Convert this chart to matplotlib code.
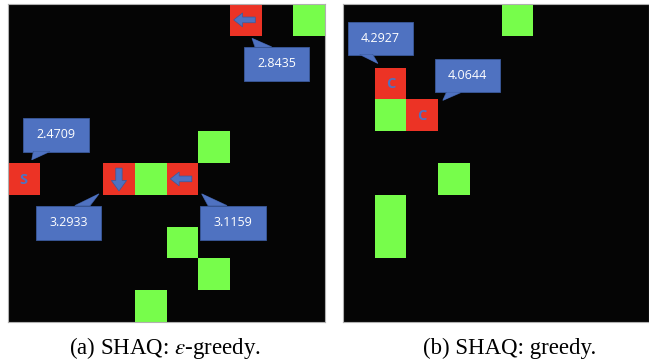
import matplotlib
matplotlib.use("Agg")
import matplotlib.pyplot as plt
from matplotlib.patches import Rectangle, Polygon

plt.rcParams['mathtext.fontset'] = 'stix'

# grid cells as (column, row from top)
left_red = [(7, 0), (0, 5), (3, 5), (5, 5)]
left_red_marks = ['left', 'S', 'down', 'left']
left_green = [(9, 0), (6, 4), (4, 5), (5, 7), (6, 8), (4, 9)]
left_values = ['2.8435', '2.4709', '3.2933', '3.1159']

right_red = [(1, 2), (2, 3)]
right_red_marks = ['C', 'C']
right_green = [(5, 0), (1, 3), (3, 5), (1, 6), (1, 7)]
right_values = ['4.2927', '4.0644']

captions = ['(a) SHAQ: $\\epsilon$-greedy.', '(b) SHAQ: greedy.']

# callout layout: box (x0, x1, y0, y1), tail base (xa, xb), tail tip (x, y)
left_boxes = [
    ((7.44, 9.50, 1.35, 2.41), (7.79, 8.32), (7.70, 1.08)),
    ((0.48, 2.56, 3.57, 4.64), (0.80, 1.32), (0.75, 4.90)),
    ((0.87, 2.94, 6.34, 7.41), (2.11, 2.59), (2.87, 5.97)),
    ((6.06, 8.13, 6.34, 7.41), (6.31, 6.91), (6.11, 5.97)),
]
right_boxes = [
    ((0.16, 2.21, 0.56, 1.59), (0.53, 0.94), (1.10, 1.87)),
    ((2.90, 4.95, 1.73, 2.78), (3.26, 3.73), (3.15, 3.03)),
]

RED = '#ec3325'
GREEN = '#77fd4b'
BLUE = '#4f72c1'
BLUE_EDGE = '#3a5a9c'


def draw_mark(ax, c, r, mark):
    cx, cy = c + 0.5, r + 0.5
    if mark == 'left':
        pts = [(c + 0.12, cy), (c + 0.4, cy - 0.22), (c + 0.4, cy - 0.09),
               (c + 0.8, cy - 0.09), (c + 0.8, cy + 0.09), (c + 0.4, cy + 0.09),
               (c + 0.4, cy + 0.22)]
        ax.add_patch(Polygon(pts, closed=True, fc=BLUE, ec=BLUE_EDGE, lw=0.5, zorder=3))
    elif mark == 'down':
        pts = [(cx, r + 0.88), (cx - 0.24, r + 0.55), (cx - 0.1, r + 0.55),
               (cx - 0.1, r + 0.16), (cx + 0.1, r + 0.16), (cx + 0.1, r + 0.55),
               (cx + 0.24, r + 0.55)]
        ax.add_patch(Polygon(pts, closed=True, fc=BLUE, ec=BLUE_EDGE, lw=0.5, zorder=3))
    else:
        ax.text(cx, cy + 0.03, mark, color=BLUE, fontsize=10.5, fontweight='bold',
                family='Open Sans', ha='center', va='center', zorder=3)


def draw_callout(ax, box, base, tip, value):
    x0, x1, y0, y1 = box
    ax.add_patch(Rectangle((x0, y0), x1 - x0, y1 - y0, fc=BLUE, ec=BLUE_EDGE,
                           lw=0.6, zorder=4))
    # tail attaches to whichever edge faces the tip
    ey = y0 if tip[1] < y0 else y1
    ax.add_patch(Polygon([(base[0], ey), tip, (base[1], ey)], closed=True,
                         fc=BLUE, ec=BLUE_EDGE, lw=0.6, zorder=4))
    ax.add_patch(Polygon([(base[0] + 0.02, ey), tip, (base[1] - 0.02, ey)],
                         closed=True, fc=BLUE, ec='none', zorder=5))
    ax.text((x0 + x1) / 2, (y0 + y1) / 2, value, color='white', fontsize=9,
            family='Open Sans', ha='center', va='center', zorder=6)


def panel(ax, reds, marks, greens, values, boxes, width):
    ax.set_facecolor('#050505')
    for (c, r) in greens:
        ax.add_patch(Rectangle((c, r), 1, 1, fc=GREEN, ec='none', zorder=2))
    for (c, r), m in zip(reds, marks):
        ax.add_patch(Rectangle((c, r), 1, 1, fc=RED, ec='none', zorder=2))
        draw_mark(ax, c, r, m)
    for (box, base, tip), v in zip(boxes, values):
        draw_callout(ax, box, base, tip, v)
    ax.set_xlim(0, width)
    ax.set_ylim(10, 0)
    ax.set_xticks([])
    ax.set_yticks([])
    for s in ax.spines.values():
        s.set_color('#b0b0b0')
        s.set_linewidth(0.8)


W, H = 649, 364
fig = plt.figure(figsize=(W / 100, H / 100), dpi=100)
ax1 = fig.add_axes([8 / W, 1 - 322 / H, 317 / W, 318 / H])
ax2 = fig.add_axes([343 / W, 1 - 322 / H, 306 / W, 318 / H])

panel(ax1, left_red, left_red_marks, left_green, left_values, left_boxes, 10)
panel(ax2, right_red, right_red_marks, right_green, right_values, right_boxes, 306 / 31.7)

fig.text(165 / W, 1 - 348 / H, captions[0], family='Liberation Serif', fontsize=16.5,
         ha='center', va='center')
fig.text(510 / W, 1 - 348 / H, captions[1], family='Liberation Serif', fontsize=16.5,
         ha='center', va='center')

fig.savefig('out.png', dpi=100)
